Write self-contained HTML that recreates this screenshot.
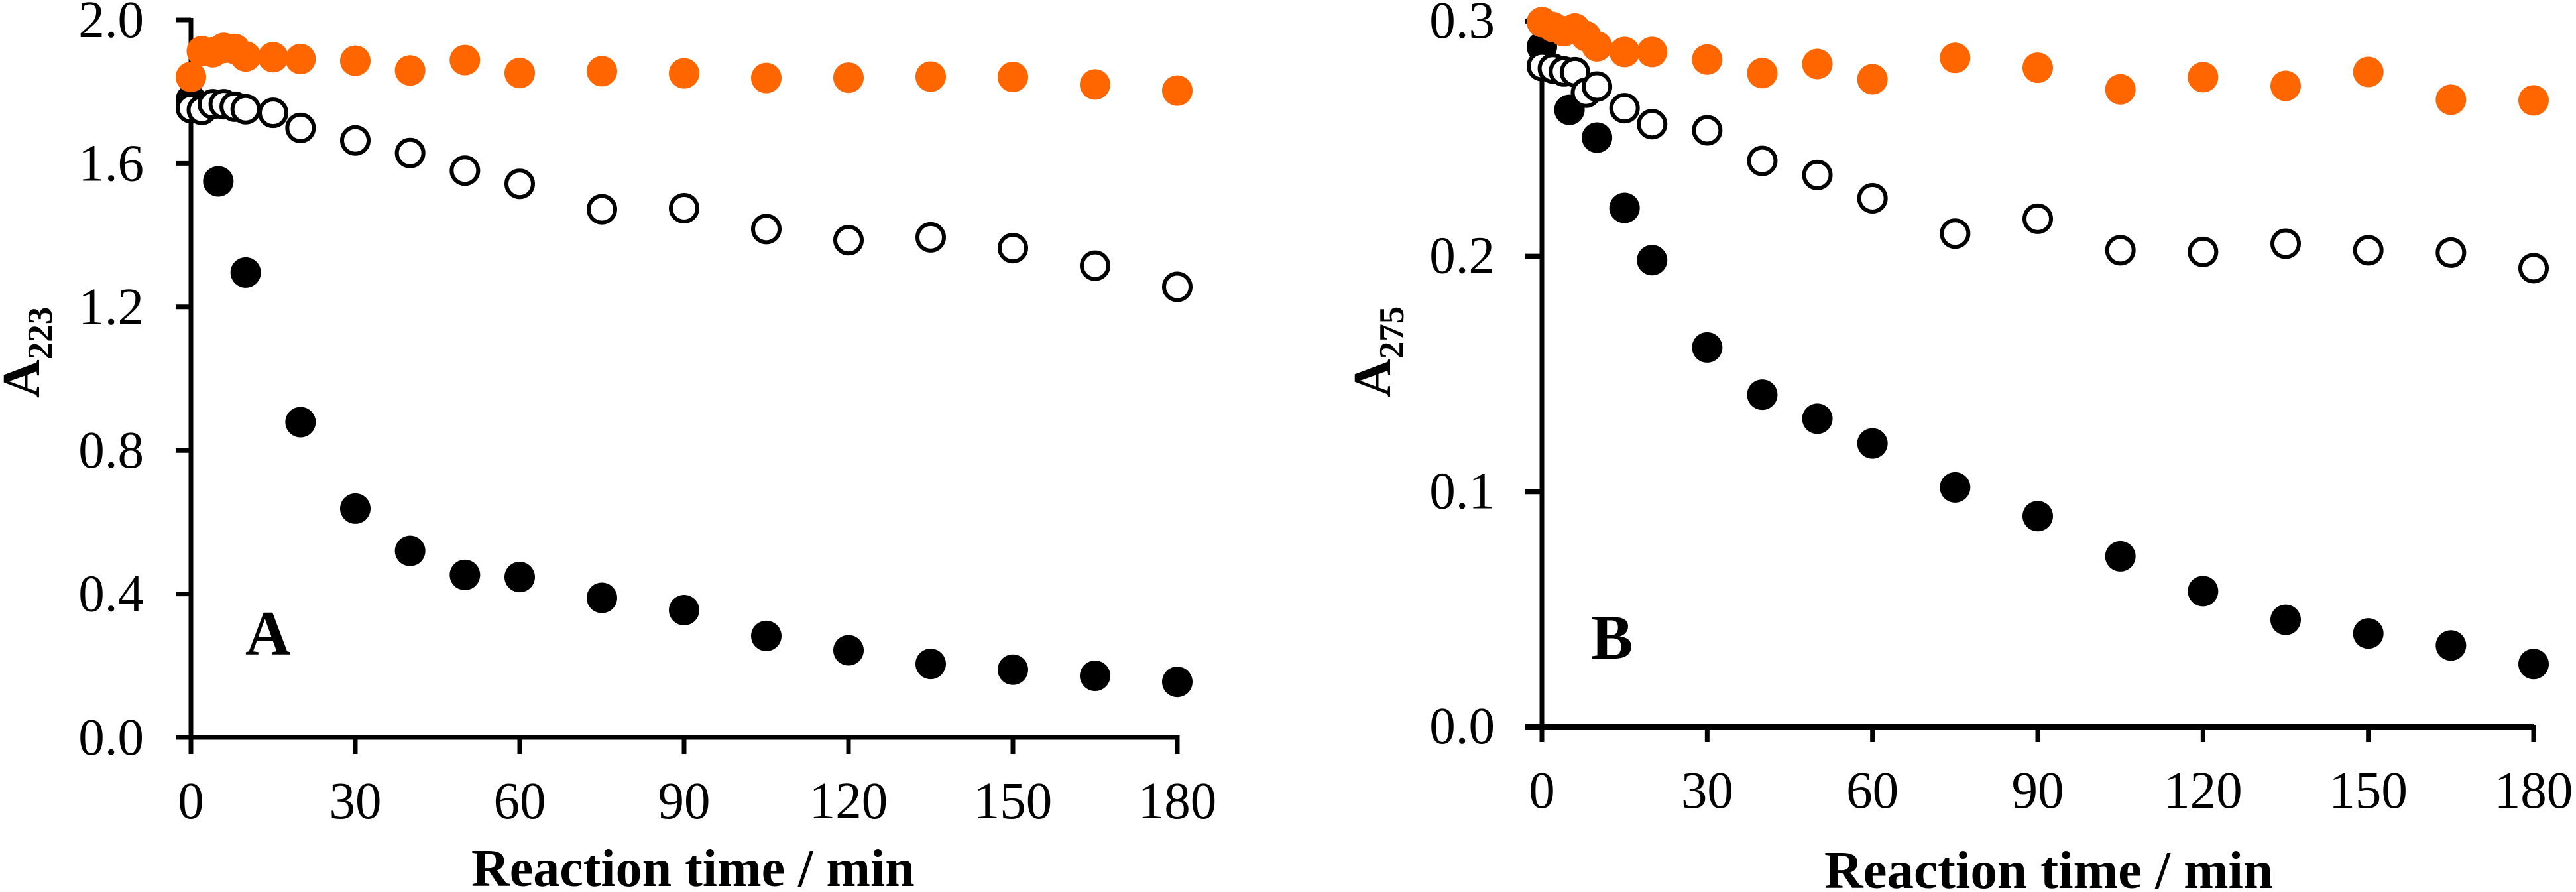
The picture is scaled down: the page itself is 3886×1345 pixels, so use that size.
<!DOCTYPE html>
<html lang="en">
<head>
<meta charset="utf-8">
<title>Absorbance versus reaction time</title>
<style>
html,body{margin:0;padding:0;background:#fff;}
svg{display:block;}
text{font-family:"Liberation Serif",serif;fill:#000;}
.tick{font-size:79px;}
.title{font-size:80px;font-weight:bold;}
.panel{font-size:95px;font-weight:bold;}
</style>
</head>
<body>
<svg id="figure" width="3886" height="1345" viewBox="0 0 3886 1345" xmlns="http://www.w3.org/2000/svg">
  <rect x="0" y="0" width="3886" height="1345" fill="#ffffff"/>
  <g id="chart-a">
    <text class="title" x="711" y="1336">Reaction time / min</text>
    <text class="title" x="59" y="600" transform="rotate(-90 59 600)">A<tspan font-size="53" dy="19">223</tspan></text>
    <text class="panel" x="370" y="987">A</text>
  </g>
  <g id="chart-b">
    <text class="title" style="font-size:81px" x="2752" y="1339">Reaction time / min</text>
    <text class="title" x="2097" y="599" transform="rotate(-90 2097 599)">A<tspan font-size="53" dy="20">275</tspan></text>
    <text class="panel" x="2400" y="993">B</text>
  </g>
</svg>
<script>
/* Shared x-axis ticks */
const xTickValues = [0, 30, 60, 90, 120, 150, 180];

/* Panel A: A223 */
const aYTickValues = [0, 0.4, 0.8, 1.2, 1.6, 2.0];
const aYTickLabels = ["0.0", "0.4", "0.8", "1.2", "1.6", "2.0"];
const aUntreatedTimes = [0, 5, 10, 20, 30, 40, 50, 60, 75, 90, 105, 120, 135, 150, 165, 180];
const aUntreatedValues = [1.778, 1.55, 1.296, 0.879, 0.638, 0.52, 0.453, 0.447, 0.389, 0.355, 0.283, 0.243, 0.205, 0.189, 0.172, 0.155];
const aOpenTimes = [0, 2, 4, 6, 8, 10, 15, 20, 30, 40, 50, 60, 75, 90, 105, 120, 135, 150, 165, 180];
const aOpenValues = [1.754, 1.749, 1.765, 1.765, 1.758, 1.751, 1.741, 1.699, 1.664, 1.629, 1.58, 1.543, 1.472, 1.475, 1.417, 1.386, 1.394, 1.364, 1.315, 1.256];
const aOrangeTimes = [0, 2, 4, 6, 8, 10, 15, 20, 30, 40, 50, 60, 75, 90, 105, 120, 135, 150, 165, 180];
const aOrangeValues = [1.841, 1.913, 1.91, 1.922, 1.919, 1.898, 1.896, 1.891, 1.886, 1.859, 1.888, 1.852, 1.857, 1.851, 1.838, 1.839, 1.842, 1.841, 1.82, 1.803];

/* Panel B: A275 */
const bYTickValues = [0, 0.1, 0.2, 0.3];
const bYTickLabels = ["0.0", "0.1", "0.2", "0.3"];
const bUntreatedTimes = [0, 5, 10, 15, 20, 30, 40, 50, 60, 75, 90, 105, 120, 135, 150, 165, 180];
const bUntreatedValues = [0.2891, 0.2623, 0.2505, 0.2206, 0.1984, 0.1613, 0.1412, 0.131, 0.1205, 0.1018, 0.0896, 0.0725, 0.0577, 0.0455, 0.0397, 0.0346, 0.0267];
const bOpenTimes = [0, 2, 4, 6, 8, 10, 15, 20, 30, 40, 50, 60, 75, 90, 105, 120, 135, 150, 165, 180];
const bOpenValues = [0.2809, 0.2799, 0.2786, 0.2783, 0.2696, 0.2722, 0.263, 0.2562, 0.2536, 0.2406, 0.2346, 0.2247, 0.2097, 0.216, 0.2026, 0.2019, 0.2054, 0.2026, 0.2016, 0.195];
const bOrangeTimes = [0, 2, 4, 6, 8, 10, 15, 20, 30, 40, 50, 60, 75, 90, 105, 120, 135, 150, 165, 180];
const bOrangeValues = [0.2996, 0.2975, 0.2957, 0.2969, 0.2936, 0.2893, 0.2869, 0.2869, 0.2837, 0.2779, 0.2818, 0.2753, 0.2844, 0.2802, 0.271, 0.2762, 0.2725, 0.2784, 0.2666, 0.2663];

const SVG_NS = "http://www.w3.org/2000/svg";
const AXIS_COLOR = "#000000";
const ORANGE = "#FF6600";

function makeSvg(tag, attrs, parent) {
  const el = document.createElementNS(SVG_NS, tag);
  Object.keys(attrs).forEach(function (k) { el.setAttribute(k, attrs[k]); });
  parent.appendChild(el);
  return el;
}

function drawAxes(root, cfg) {
  const sx = cfg.sx, sy = cfg.sy;
  const ax = sx(0), ay = sy(0);

  xTickValues.forEach(function (t) {
    const tick = makeSvg("line", { x1: sx(t), x2: sx(t), y1: ay - 3, y2: cfg.xTickEnd, stroke: AXIS_COLOR, "stroke-width": 7 }, root);
    
    
    const label = makeSvg("text", { class: "tick", x: sx(t), y: cfg.xLabelY, "text-anchor": "middle" }, root);
    
    
    label.textContent = String(t);
  });

  cfg.yTicks.forEach(function (v, i) {
    const tick = makeSvg("line", { x1: cfg.yTickStart, x2: ax, y1: sy(v), y2: sy(v), stroke: AXIS_COLOR, "stroke-width": cfg.xAxisWidth }, root);
    
    
    const label = makeSvg("text", { class: "tick", x: cfg.yLabelX, y: sy(v) + cfg.yLabelDy, "text-anchor": "end" }, root);
    
    
    label.textContent = cfg.yLabels[i];
  });

  const yAxis = makeSvg("line", { x1: ax, x2: ax, y1: sy(cfg.yMax) - 3, y2: cfg.xTickEnd, stroke: AXIS_COLOR, "stroke-width": 7 }, root);
  
  

  const xAxis = makeSvg("line", { x1: cfg.yTickStart, x2: sx(180), y1: ay, y2: ay, stroke: AXIS_COLOR, "stroke-width": cfg.xAxisWidth }, root);
  
  
}

function drawSeries(root, times, values, sx, sy, style, seriesName) {
  const group = makeSvg("g", {}, root);
  
  
  times.forEach(function (t, i) {
    const dot = makeSvg("circle", { cx: sx(t), cy: sy(values[i]), r: style.r, fill: style.fill, stroke: style.stroke, "stroke-width": style.strokeWidth }, group);
    
    
  });
}

const filledStyle = { r: 23, fill: "#000000", stroke: "none", strokeWidth: 0 };
const openStyle = { r: 20, fill: "#ffffff", stroke: "#000000", strokeWidth: 6 };
const orangeStyle = { r: 23, fill: ORANGE, stroke: "none", strokeWidth: 0 };

/* Panel A scales */
function xA(t) { return 288 + t * (1488 / 180); }
function yA(v) { return 1112 - v * 541; }
/* Panel B scales */
function xB(t) { return 2326 + t * (1496 / 180); }
function yB(v) { return 1096 - v * 3547; }

const chartA = document.getElementById("chart-a");
const chartB = document.getElementById("chart-b");

drawAxes(chartA, { sx: xA, sy: yA, yTicks: aYTickValues, yLabels: aYTickLabels, yMax: 2.0, xTickEnd: 1137, yTickStart: 265, xLabelY: 1234, yLabelX: 217, yLabelDy: 26, xAxisWidth: 7 });
drawSeries(chartA, aUntreatedTimes, aUntreatedValues, xA, yA, filledStyle, 'series-filled-a');
drawSeries(chartA, aOpenTimes, aOpenValues, xA, yA, openStyle, 'series-open-a');
drawSeries(chartA, aOrangeTimes, aOrangeValues, xA, yA, orangeStyle, 'series-orange-a');

drawAxes(chartB, { sx: xB, sy: yB, yTicks: bYTickValues, yLabels: bYTickLabels, yMax: 0.3, xTickEnd: 1119, yTickStart: 2301, xLabelY: 1218, yLabelX: 2255, yLabelDy: 25, xAxisWidth: 8 });
drawSeries(chartB, bUntreatedTimes, bUntreatedValues, xB, yB, filledStyle, 'series-filled-b');
drawSeries(chartB, bOpenTimes, bOpenValues, xB, yB, openStyle, 'series-open-b');
drawSeries(chartB, bOrangeTimes, bOrangeValues, xB, yB, orangeStyle, 'series-orange-b');
</script>
</body>
</html>
